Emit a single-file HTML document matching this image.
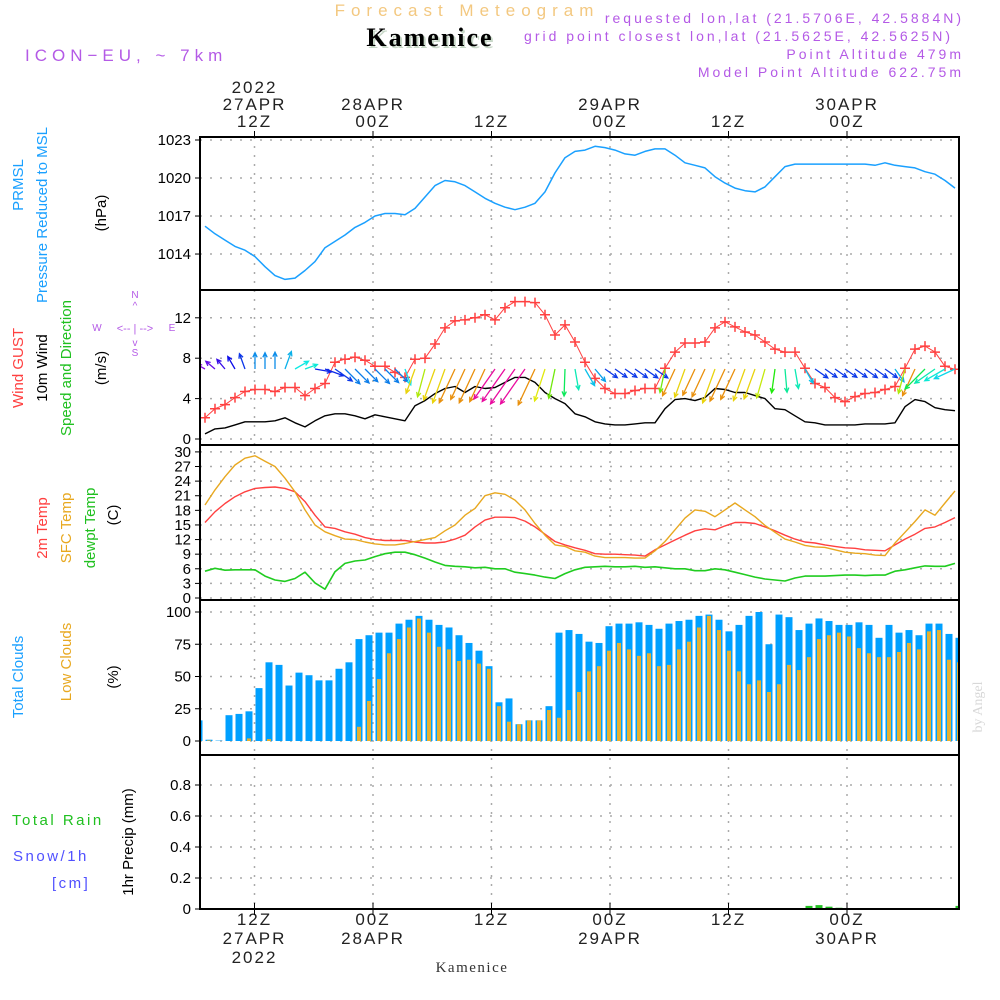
<!DOCTYPE html>
<html><head><meta charset="utf-8">
<style>
html,body{margin:0;padding:0;background:#fff;}
svg{display:block;font-family:"Liberation Sans",sans-serif;}
</style></head>
<body>
<svg id="chart" width="1000" height="1000" viewBox="0 0 1000 1000" xmlns="http://www.w3.org/2000/svg">
<defs><clipPath id="plotclip"><rect x="201" y="130" width="758" height="790"/></clipPath></defs>
<g>
<text x="467" y="16" font-size="17" fill="#f3c880" text-anchor="middle" letter-spacing="6">Forecast Meteogram</text>
<text x="432" y="48" font-size="26" font-weight="bold" font-family="Liberation Serif, serif" fill="#c8d8c8" text-anchor="middle" letter-spacing="2">Kamenice</text>
<text x="430" y="46" font-size="26" font-weight="bold" font-family="Liberation Serif, serif" fill="#000" text-anchor="middle" letter-spacing="2">Kamenice</text>
<text x="25" y="61" font-size="17" fill="#b45ae6" letter-spacing="5">ICON−EU, ~ 7km</text>
<g font-size="14" fill="#b45ae6" text-anchor="end" letter-spacing="3">
<text x="964" y="23">requested lon,lat (21.5706E, 42.5884N)</text>
<text x="953" y="41">grid point closest lon,lat (21.5625E, 42.5625N)</text>
<text x="964" y="59">Point Altitude 479m</text>
<text x="964" y="77">Model Point Altitude 622.75m</text>
</g>
</g>
<g id="grid"></g>
<g id="marks" clip-path="url(#plotclip)"></g>
<g id="frames"></g>
<g id="labels"></g>
<g font-size="15">
<text transform="translate(23,185) rotate(-90)" text-anchor="middle" fill="#1aa0ff">PRMSL</text>
<text transform="translate(47,215) rotate(-90)" text-anchor="middle" fill="#1aa0ff">Pressure Reduced to MSL</text>
<text transform="translate(106,213) rotate(-90)" text-anchor="middle" fill="#000">(hPa)</text>
<text transform="translate(23,368) rotate(-90)" text-anchor="middle" fill="#ff4040">Wind GUST</text>
<text transform="translate(47,368) rotate(-90)" text-anchor="middle" fill="#000">10m Wind</text>
<text transform="translate(71,368) rotate(-90)" text-anchor="middle" fill="#20c020">Speed and Direction</text>
<text transform="translate(106,368) rotate(-90)" text-anchor="middle" fill="#000">(m/s)</text>
<g fill="#b45ae6" font-size="10" text-anchor="middle">
<text x="135" y="298">N</text><text x="135" y="309">^</text><text x="135" y="332" font-size="11">&lt;-- | --&gt;</text>
<text x="97" y="331">W</text><text x="172" y="331">E</text><text x="135" y="346">v</text><text x="135" y="356">S</text>
</g>
<text transform="translate(47,528) rotate(-90)" text-anchor="middle" fill="#ff4040">2m Temp</text>
<text transform="translate(71,528) rotate(-90)" text-anchor="middle" fill="#e8a820">SFC Temp</text>
<text transform="translate(95,528) rotate(-90)" text-anchor="middle" fill="#20c020">dewpt Temp</text>
<text transform="translate(118,515) rotate(-90)" text-anchor="middle" fill="#000">(C)</text>
<text transform="translate(23,677) rotate(-90)" text-anchor="middle" fill="#1aa0ff">Total Clouds</text>
<text transform="translate(71,662) rotate(-90)" text-anchor="middle" fill="#e8a820">Low Clouds</text>
<text transform="translate(118,677) rotate(-90)" text-anchor="middle" fill="#000">(%)</text>
<text x="12" y="825" fill="#20c020" letter-spacing="2.5">Total  Rain</text>
<text x="13" y="861" fill="#5050ff" letter-spacing="2.5">Snow/1h</text>
<text x="52" y="888" fill="#5050ff" letter-spacing="2.5">[cm]</text>
<text transform="translate(133,842) rotate(-90)" text-anchor="middle" fill="#000">1hr Precip (mm)</text>
<text transform="translate(982,707) rotate(-90)" text-anchor="middle" fill="#d8d8d8" font-family="Liberation Serif, serif" font-size="14">by Angel</text>
<text x="472" y="972" text-anchor="middle" font-family="Liberation Serif, serif" font-size="15" letter-spacing="1.5" fill="#333">Kamenice</text>
</g>
</svg>
<script>
// ---- data (hourly index) ----
const pressure = [1016.2,1015.6,1015.1,1014.6,1014.3,1013.8,1013.0,1012.3,1012.0,1012.1,1012.7,1013.4,1014.5,1015.0,1015.5,1016.1,1016.5,1017.0,1017.2,1017.2,1017.1,1017.6,1018.5,1019.4,1019.8,1019.7,1019.4,1018.9,1018.4,1018.0,1017.7,1017.5,1017.7,1018.0,1018.9,1020.4,1021.6,1022.1,1022.2,1022.5,
1022.4,1022.2,1021.9,1021.8,1022.1,1022.3,1022.3,1021.8,1021.2,1021.0,1020.8,1020.1,1019.6,1019.2,1019.0,1018.9,1019.3,1020.1,1020.9,1021.1,1021.1,1021.1,1021.1,1021.1,1021.1,1021.1,1021.1,1021.0,1021.2,1021.0,1020.9,1020.8,1020.5,1020.3,1019.8,1019.2];
const gust = [2.1,3.0,3.4,4.1,4.7,4.9,4.9,4.7,5.1,5.1,4.3,5.0,5.5,7.6,7.9,8.1,7.8,7.2,7.2,6.6,6.1,7.9,8.0,9.4,11.0,11.7,11.8,12.0,12.3,11.8,13.0,13.6,13.6,13.5,12.3,10.3,11.3,9.6,7.6,6.0,
5.0,4.5,4.5,4.8,5.0,5.0,7.0,8.6,9.5,9.5,9.6,11.0,11.6,11.1,10.6,10.3,9.6,8.9,8.6,8.6,7.0,5.5,5.1,4.1,3.7,4.2,4.5,4.6,4.9,5.2,7.0,8.9,9.2,8.6,7.2,6.9];
const wind10m = [0.5,1.0,1.1,1.4,1.7,1.7,1.7,1.8,2.1,1.6,1.2,1.8,2.3,2.5,2.5,2.3,2.0,2.4,2.2,2.0,1.8,3.3,3.8,4.5,5.0,5.2,4.6,5.2,5.0,5.1,5.6,6.1,6.1,5.6,4.6,4.0,3.5,2.5,2.2,1.7,
1.5,1.4,1.4,1.5,1.6,1.6,3.0,3.9,4.0,3.8,4.1,5.0,4.9,4.6,4.6,4.3,4.0,3.0,2.9,2.3,1.7,1.6,1.4,1.4,1.4,1.4,1.5,1.5,1.5,1.6,3.2,3.9,3.7,3.1,2.9,2.8];
const windDirTo = [300,310,320,330,340,0,0,0,20,60,70,100,110,125,135,135,135,135,135,135,160,200,195,200,200,205,205,205,205,215,215,215,215,205,198,192,182,170,150,140,
125,125,125,125,125,125,192,205,200,205,205,200,205,205,200,200,196,188,175,170,150,125,125,125,125,125,125,125,125,145,195,205,225,235,240,245];
const temp2m = [15.5,17.7,19.4,20.8,21.8,22.5,22.7,22.8,22.5,21.8,19.8,17.0,14.6,14.3,13.6,13.1,12.4,12.0,11.8,11.8,11.8,11.5,11.3,11.3,11.5,12.1,12.9,14.6,16.0,16.6,16.6,16.5,15.8,14.6,13.1,11.6,10.9,10.3,9.8,9.1,
9.0,9.0,8.9,8.8,8.6,9.9,10.9,11.9,12.9,13.8,14.2,14.0,14.8,15.5,15.5,15.3,14.6,13.8,12.9,12.1,11.5,11.3,10.9,10.6,10.3,10.2,9.9,9.8,9.7,10.9,12.1,13.1,14.3,14.6,15.5,16.5];
const tempSfc = [19.1,22.2,24.9,27.3,28.7,29.2,28.1,27.0,24.6,21.8,18.1,15.0,13.6,12.8,12.1,12.0,11.5,11.1,10.9,10.9,11.2,11.6,12.0,12.4,13.8,15.0,17.0,18.4,21.0,21.6,21.3,20.1,18.1,15.3,12.9,10.9,10.6,9.7,9.4,8.6,
8.3,8.3,8.3,8.2,8.2,9.7,11.6,14.0,16.4,18.1,17.8,16.7,18.1,19.5,18.1,16.7,14.9,13.5,12.1,11.5,10.8,10.5,10.4,9.9,9.4,9.2,9.1,8.8,8.7,11.3,13.5,15.7,18.1,17.0,19.5,22.0];
const dewpt = [5.5,6.1,5.7,5.8,5.8,5.8,4.5,3.7,3.4,4.0,5.3,3.1,1.8,5.4,7.1,7.6,7.8,8.5,9.1,9.4,9.4,8.9,8.2,7.4,6.7,6.5,6.4,6.2,6.3,6.0,6.0,5.3,5.0,4.7,4.3,4.0,5.0,5.8,6.3,6.4,
6.5,6.4,6.4,6.5,6.3,6.4,6.2,6.0,6.0,5.6,5.6,6.0,5.8,5.3,4.8,4.3,3.9,3.7,3.5,4.1,4.5,4.5,4.5,4.6,4.7,4.7,4.6,4.7,4.7,5.5,5.8,6.2,6.6,6.5,6.5,7.1];
const totalClouds = [16,1,0.3,20,21,23,41,61,59,43,53,51,47,47,56,61,79,82,84,84,91,94,97,94,90,88,82,76,70,58,30,33,13,16,16,27,84,86,83,77,
76,89,91,91,92,90,87,91,93,94,97,98,94,85,90,97,100,75,98,96,86,91,95,93,90,90,92,90,80,90,84,86,82,91,91,83,80];
const lowClouds = [0,0.5,0,0,0,2,0,1.5,0,0,0,0,0,0,0,0,11,31,48,68,79,88,95,84,73,71,62,63,60,56,27,15,13,16,16,24,18,24,38,54,
58,70,76,71,66,68,58,59,71,77,88,97,86,70,54,44,47,38,44,59,55,65,79,82,84,81,72,68,65,65,69,76,71,85,86,63,61];
const precip = [0,0,0,0,0,0,0,0,0,0,0,0,0,0,0,0,0,0,0,0,0,0,0,0,0,0,0,0,0,0,0,0,0,0,0,0,0,0,0,0,
0,0,0,0,0,0,0,0,0,0,0,0,0,0,0,0,0,0,0,0,0,0.02,0.025,0.015,0.008,0,0,0,0,0,0,0,0,0,0,0,0.02];
const gridHours = [12,24,36,48,60,72];
const topLabels = [["2022","27APR","12Z"],["28APR","00Z"],["12Z"],["29APR","00Z"],["12Z"],["30APR","00Z"]];
const bottomLabels = [["12Z","27APR","2022"],["00Z","28APR"],["12Z"],["00Z","29APR"],["12Z"],["00Z","30APR"]];
const pTicks = [1014,1017,1020,1023];
const wTicks = [0,4,8,12];
const tTicks = [0,3,6,9,12,15,18,21,24,27,30];
const cTicks = [0,25,50,75,100];
const rTicks = [0,0.2,0.4,0.6,0.8];

// ---- scales ----
const xs = k => 205 + k*10;
const xb = k => 199 + k*10;
const xt = h => 254.5 + (h-12)*9.875;
const yP = v => 140 + (1023 - v)*12.67;
const yW = v => 439 - v*10.1;
const yT = v => 598 - v*4.87;
const yC = v => 741 - v*1.29;
const yR = v => 909 - v*155;
const panels = [[137,290],[290,445],[445,600],[600,755],[755,909]];
const L = 200, R = 959;

const NS = "http://www.w3.org/2000/svg";
function mk(tag, attrs, parent){ const e=document.createElementNS(NS,tag); for(const a in attrs) e.setAttribute(a,attrs[a]); parent.appendChild(e); return e; }
const grid = document.getElementById('grid'), marks = document.getElementById('marks'), frames = document.getElementById('frames'), labels = document.getElementById('labels');

gridHours.forEach(h=>{
  const g = mk('line',{x1:xt(h),x2:xt(h),y1:137,y2:909,stroke:'#aaa','stroke-width':1.5,'stroke-dasharray':'2 7'},grid);
  
  
});
function hgrid(ticks, f, name){
  ticks.forEach(t=>{
    const g = mk('line',{x1:L,x2:R,y1:f(t),y2:f(t),stroke:'#aaa','stroke-width':1.5,'stroke-dasharray':'2 8'},grid);
    
    
  });
}
hgrid(pTicks,yP,'pressure-gridline'); hgrid(wTicks,yW,'wind-gridline'); hgrid(tTicks,yT,'temp-gridline');
hgrid(cTicks,yC,'cloud-gridline'); hgrid(rTicks,yR,'precip-gridline');

function line(arr, fx, fy, color, name, w){
  const d = arr.map((v,k)=>(k?'L':'M')+fx(k).toFixed(1)+','+fy(v).toFixed(1)).join('');
  const p = mk('path',{d:d,fill:'none',stroke:color,'stroke-width':w||1.4,'stroke-linejoin':'round'},marks);
  
  
}
totalClouds.forEach((v,k)=>{
  const b = mk('rect',{x:xb(k)-3.5,y:yC(v),width:7,height:yC(0)-yC(v),fill:'#00a0ff'},marks);
  
  
});
lowClouds.forEach((v,k)=>{
  const b = mk('rect',{x:xb(k)-2,y:yC(v),width:4,height:yC(0)-yC(v),fill:'#e6b030'},marks);
  
  
});
precip.forEach((v,k)=>{
  if(v<=0) return;
  const b = mk('rect',{x:xb(k)-3.5,y:yR(v),width:7,height:yR(0)-yR(v),fill:'#20c020'},marks);
  
  
});
line(pressure,xs,yP,'#1aa0ff','pressure-line',1.5);
line(wind10m,xs,yW,'#000','wind-speed-line',1.4);
line(gust,xs,yW,'#ff4040','gust-line',1);
gust.forEach((v,k)=>{
  const x=xs(k), y=yW(v);
  const m = mk('path',{d:`M${x-5},${y}H${x+5}M${x},${y-5}V${y+5}`,stroke:'#ff4040','stroke-width':1.5},marks);
  
  
});
line(temp2m,xs,yT,'#ff4040','temp-2m-line',1.4);
line(tempSfc,xs,yT,'#e8a820','temp-sfc-line',1.4);
line(dewpt,xs,yT,'#20cc20','dewpoint-line',1.6);
const hueA=[[-60,275],[-30,240],[0,205],[40,185],[70,175],[100,235],[125,228],[140,200],[160,182],[180,150],[188,115],[196,70],[203,42],[207,30],[212,320],[216,320],[222,130],[235,165],[245,185]];
function hueOf(a){ if(a>270) a-=360; for(let i=1;i<hueA.length;i++){ if(a<=hueA[i][0]){const [a0,h0]=hueA[i-1],[a1,h1]=hueA[i]; const t=(a-a0)/(a1-a0); return h0+(h1-h0)*t;} } return hueA[hueA.length-1][1]; }
windDirTo.forEach((a,k)=>{
  const len = 6 + 6*wind10m[k], r = a*Math.PI/180;
  const x0=xs(k), y0=369, x1=x0+len*Math.sin(r), y1=y0-len*Math.cos(r);
  const hl=5, b1=r+Math.PI-0.45, b2=r+Math.PI+0.45;
  const col = `hsl(${hueOf(a)},90%,48%)`;
  const ar = mk('path',{d:`M${x0},${y0}L${x1},${y1}M${x1+hl*Math.sin(b1)},${y1-hl*Math.cos(b1)}L${x1},${y1}L${x1+hl*Math.sin(b2)},${y1-hl*Math.cos(b2)}`,stroke:col,'stroke-width':1.3,fill:'none'},marks);
  
  
});
panels.forEach(([t,b])=>{
  const f = mk('rect',{x:L,y:t,width:R-L,height:b-t,fill:'none',stroke:'#000','stroke-width':2},frames);
  
  
});
function yt(ticks,f,name,fmt){
  ticks.forEach(t=>{
    const tx = mk('text',{x:191,y:f(t)+5,'text-anchor':'end','font-size':15,fill:'#000'},labels);
    tx.textContent = fmt?fmt(t):t;
    
    
    mk('line',{x1:L-5,x2:L,y1:f(t),y2:f(t),stroke:'#000','stroke-width':1},labels);
  });
}
yt(pTicks,yP,'pressure-tick'); yt(wTicks,yW,'wind-tick'); yt(tTicks,yT,'temp-tick');
yt(cTicks,yC,'cloud-tick'); yt(rTicks,yR,'precip-tick',t=>t===0?'0':t.toFixed(1));
gridHours.forEach((h,i)=>{
  const tl = topLabels[i];
  tl.forEach((s,j)=>{
    const tx = mk('text',{x:xt(h),y:127-(tl.length-1-j)*17,'text-anchor':'middle','font-size':17,fill:'#222','letter-spacing':2},labels);
    tx.textContent = s;
    
    
  });
  mk('line',{x1:xt(h),x2:xt(h),y1:131,y2:137,stroke:'#000','stroke-width':1},labels);
  bottomLabels[i].forEach((s,j)=>{
    const tx = mk('text',{x:xt(h),y:925+j*19,'text-anchor':'middle','font-size':17,fill:'#222','letter-spacing':2},labels);
    tx.textContent = s;
    
    
  });
  mk('line',{x1:xt(h),x2:xt(h),y1:903,y2:915,stroke:'#000','stroke-width':1},labels);
});
</script>
</body></html>
